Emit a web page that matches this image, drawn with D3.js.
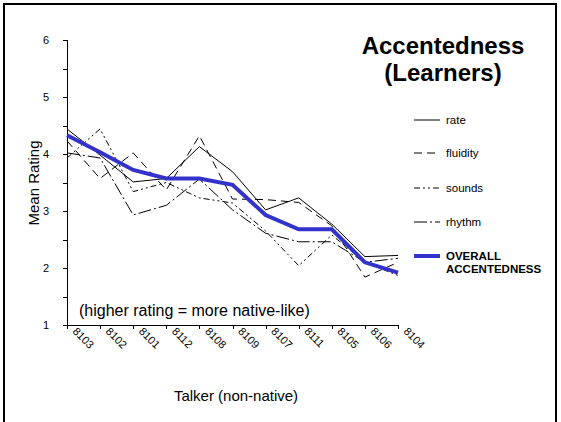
<!doctype html>
<html>
<head>
<script src="https://d3js.org/d3.v7.min.js"></script>
<style>
body { margin: 0; background: #fff; font-family: "Liberation Sans", Arial, sans-serif; }
.axis path, .axis line { stroke: #000; shape-rendering: crispEdges; }
.axis text { font-size: 11px; fill: #000; }
</style>
</head>
<body>
<script>
var talkers = ["8103","8102","8101","8112","8108","8109","8107","8111","8105","8106","8104"];
var rate     = [4.44, 3.98, 3.51, 3.57, 4.13, 3.69, 3.02, 3.23, 2.77, 2.20, 2.22];
var fluidity = [4.23, 3.57, 4.02, 3.37, 4.32, 3.21, 3.20, 3.15, 2.74, 1.84, 2.10];
var sounds   = [3.93, 4.44, 3.34, 3.50, 3.23, 3.14, 2.65, 2.04, 2.58, 2.10, 1.87];
var rhythm   = [4.02, 3.93, 2.93, 3.10, 3.56, 3.02, 2.61, 2.46, 2.46, 2.10, 2.17];
var overall  = [4.33, 4.03, 3.72, 3.57, 3.57, 3.46, 2.93, 2.68, 2.68, 2.10, 1.92];
var yTicks = [1, 2, 3, 4, 5, 6];

var series = [
  {name: "rate", values: rate, dash: null, color: "#000", w: 1},
  {name: "fluidity", values: fluidity, dash: "8,5", color: "#000", w: 1},
  {name: "sounds", values: sounds, dash: "6,3,2,3,2,3", color: "#000", w: 1},
  {name: "rhythm", values: rhythm, dash: "13,3,2,3", color: "#000", w: 1},
  {name: "OVERALL ACCENTEDNESS", values: overall, dash: null, color: "#3333cc", w: 4}
];

var W = 561, H = 422;
var svg = d3.select("body").append("svg").attr("width", W).attr("height", H);

// frame
svg.append("rect").attr("x", 4).attr("y", 4).attr("width", 552).attr("height", 440)
  .attr("fill", "none").attr("stroke", "#000").attr("stroke-width", 2);

var x = d3.scalePoint().domain(talkers).range([67, 398]);
var y = d3.scaleLinear().domain([1, 6]).range([325, 40]);

// y axis with half-unit minor ticks
svg.append("g").attr("class", "axis").attr("transform", "translate(67,0)")
  .call(d3.axisLeft(y).tickValues(d3.range(1, 6.01, 0.5)).tickSize(4).tickFormat(""));
svg.append("g").attr("class", "axis").attr("transform", "translate(67,0)")
  .call(d3.axisLeft(y).tickValues(yTicks).tickSize(4).tickPadding(14).tickFormat(d3.format("d")))
  .call(function(g){ g.select(".domain").remove(); });

// x axis
var xg = svg.append("g").attr("class", "axis").attr("transform", "translate(0,325)")
  .call(d3.axisBottom(x).tickSize(4).tickSizeOuter(0).tickFormat(""));
xg.select(".domain").attr("d", "M67,0.5H398");
svg.append("g").selectAll("text").data(talkers).enter().append("text")
  .attr("transform", function(d){ return "translate(" + (x(d) + 5) + ",332) rotate(45)"; })
  .attr("font-size", "11px").text(function(d){ return d; });

// lines
var line = d3.line().x(function(d, i){ return x(talkers[i]); }).y(function(d){ return y(d); });
svg.append("g").selectAll("path").data(series).enter().append("path")
  .attr("d", function(s){ return line(s.values); })
  .attr("fill", "none")
  .attr("stroke", function(s){ return s.color; })
  .attr("stroke-width", function(s){ return s.w; })
  .attr("stroke-dasharray", function(s){ return s.dash; });

// legend
var legY = [120, 153, 188, 222, 256];
var leg = svg.append("g").selectAll("g").data(series).enter().append("g")
  .attr("transform", function(s, i){ return "translate(414," + legY[i] + ")"; });
leg.append("line").attr("x1", 0).attr("x2", 26).attr("y1", 0).attr("y2", 0)
  .attr("stroke", function(s){ return s.color; })
  .attr("stroke-width", function(s){ return s.w; })
  .attr("stroke-dasharray", function(s){ return s.dash; });
leg.each(function(s, i){
  var t = d3.select(this).append("text").attr("x", 32).attr("y", 4).attr("font-size", "11.5px");
  if (i === 4) {
    t.attr("font-weight", "bold");
    t.append("tspan").attr("x", 32).text("OVERALL");
    t.append("tspan").attr("x", 32).attr("dy", 13).text("ACCENTEDNESS");
  } else {
    t.text(s.name);
  }
});

// titles
svg.append("text").attr("x", 443).attr("y", 54).attr("text-anchor", "middle")
  .attr("font-size", "24px").attr("font-weight", "bold").text("Accentedness");
svg.append("text").attr("x", 443).attr("y", 81).attr("text-anchor", "middle")
  .attr("font-size", "24px").attr("font-weight", "bold").text("(Learners)");

svg.append("text").attr("x", 79).attr("y", 316).attr("font-size", "16px")
  .text("(higher rating = more native-like)");

svg.append("text").attr("transform", "translate(39,183) rotate(-90)")
  .attr("text-anchor", "middle").attr("font-size", "15px").text("Mean Rating");
svg.append("text").attr("x", 236).attr("y", 401).attr("text-anchor", "middle")
  .attr("font-size", "15px").text("Talker (non-native)");
</script>
</body>
</html>
